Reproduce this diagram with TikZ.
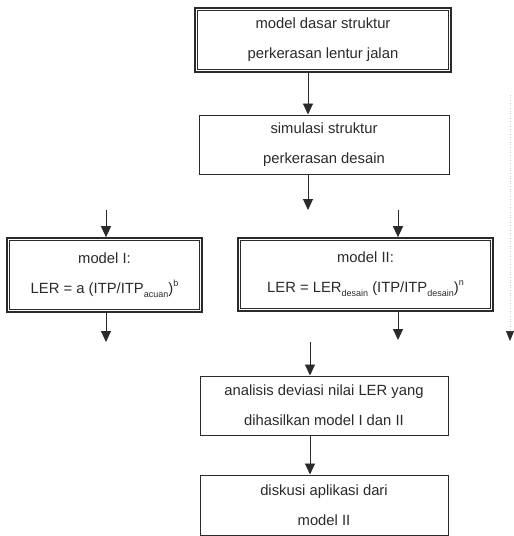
\documentclass[tikz,border=0pt]{standalone}
\usepackage{fontspec}
\setmainfont{Liberation Sans}
\usetikzlibrary{arrows.meta}
\newcommand{\mysub}[1]{\raisebox{-0.55ex}{\fontsize{9}{9}\selectfont #1}}
\newcommand{\mysup}[1]{\raisebox{0.9ex}{\fontsize{9}{9}\selectfont #1}}
\definecolor{ink}{HTML}{2A2A2A}
\begin{document}
\begin{tikzpicture}[x=1pt,y=-1pt,
  box/.style={draw=ink, line width=1pt, rectangle, inner sep=0pt, align=center,
    text=ink, font=\fontsize{14.8}{30}\selectfont},
  arr/.style={draw=ink, line width=0.9pt, -{Triangle[width=10pt,length=11pt]}}]
\useasboundingbox (0,0) rectangle (514,536);

\node[box, line width=1.6pt, minimum width=256pt, minimum height=64pt] (b1) at (323,40)
  {model dasar struktur\\perkerasan lentur jalan};
\node[box, minimum width=250pt, minimum height=59pt] (b2) at (324,144.5)
  {simulasi struktur\\perkerasan desain};
\node[box, line width=1.6pt, minimum width=195pt, minimum height=74pt] (m1) at (104.5,275)
  {model I:\\LER = a (ITP/ITP\mysub{acuan})\mysup{b}};
\node[box, line width=1.6pt, minimum width=255pt, minimum height=73pt] (m2) at (365.5,274.5)
  {model II:\\LER = LER\mysub{desain} (ITP/ITP\mysub{desain})\mysup{n}};
\node[box, minimum width=248pt, minimum height=59pt] (an) at (324,405.5)
  {analisis deviasi nilai LER yang\\dihasilkan model I dan II};
\node[box, minimum width=248pt, minimum height=60pt] (dk) at (324,505)
  {diskusi aplikasi dari\\model II};

% inner lines of the double borders
\foreach \n in {b1,m1,m2}{
  \draw[ink, line width=0.7pt] ([shift={(3.6pt,3.6pt)}]\n.south west) rectangle ([shift={(-3.6pt,-3.6pt)}]\n.north east);
}

\coordinate (xa) at (308,0);
\coordinate (xb) at (310,0);
\coordinate (e1) at (308,210);
\coordinate (s1) at (106,210);
\coordinate (e2) at (106,342);
\coordinate (s2) at (398,210);
\coordinate (e3) at (398,340);
\coordinate (s3) at (310,342);
\coordinate (r1) at (510,95);
\coordinate (r2) at (510,341);

\draw[arr] (b1.south -| xa) -- (b2.north -| xa);
\draw[arr] (b2.south -| xa) -- (e1);
\draw[arr] (s1) -- (m1.north -| s1);
\draw[arr] (m1.south -| e2) -- (e2);
\draw[arr] (s2) -- (m2.north -| s2);
\draw[arr] (m2.south -| e3) -- (e3);
\draw[arr] (s3) -- (an.north -| s3);
\draw[arr] (an.south -| xb) -- (dk.north -| xb);
\draw[gray!40, line width=0.6pt, dotted] (r1) -- ([yshift=10pt]r2);
\draw[ink, line width=0.6pt, -{Triangle[width=8pt,length=10pt]}] ([yshift=10pt]r2) -- (r2);
\end{tikzpicture}
\end{document}
